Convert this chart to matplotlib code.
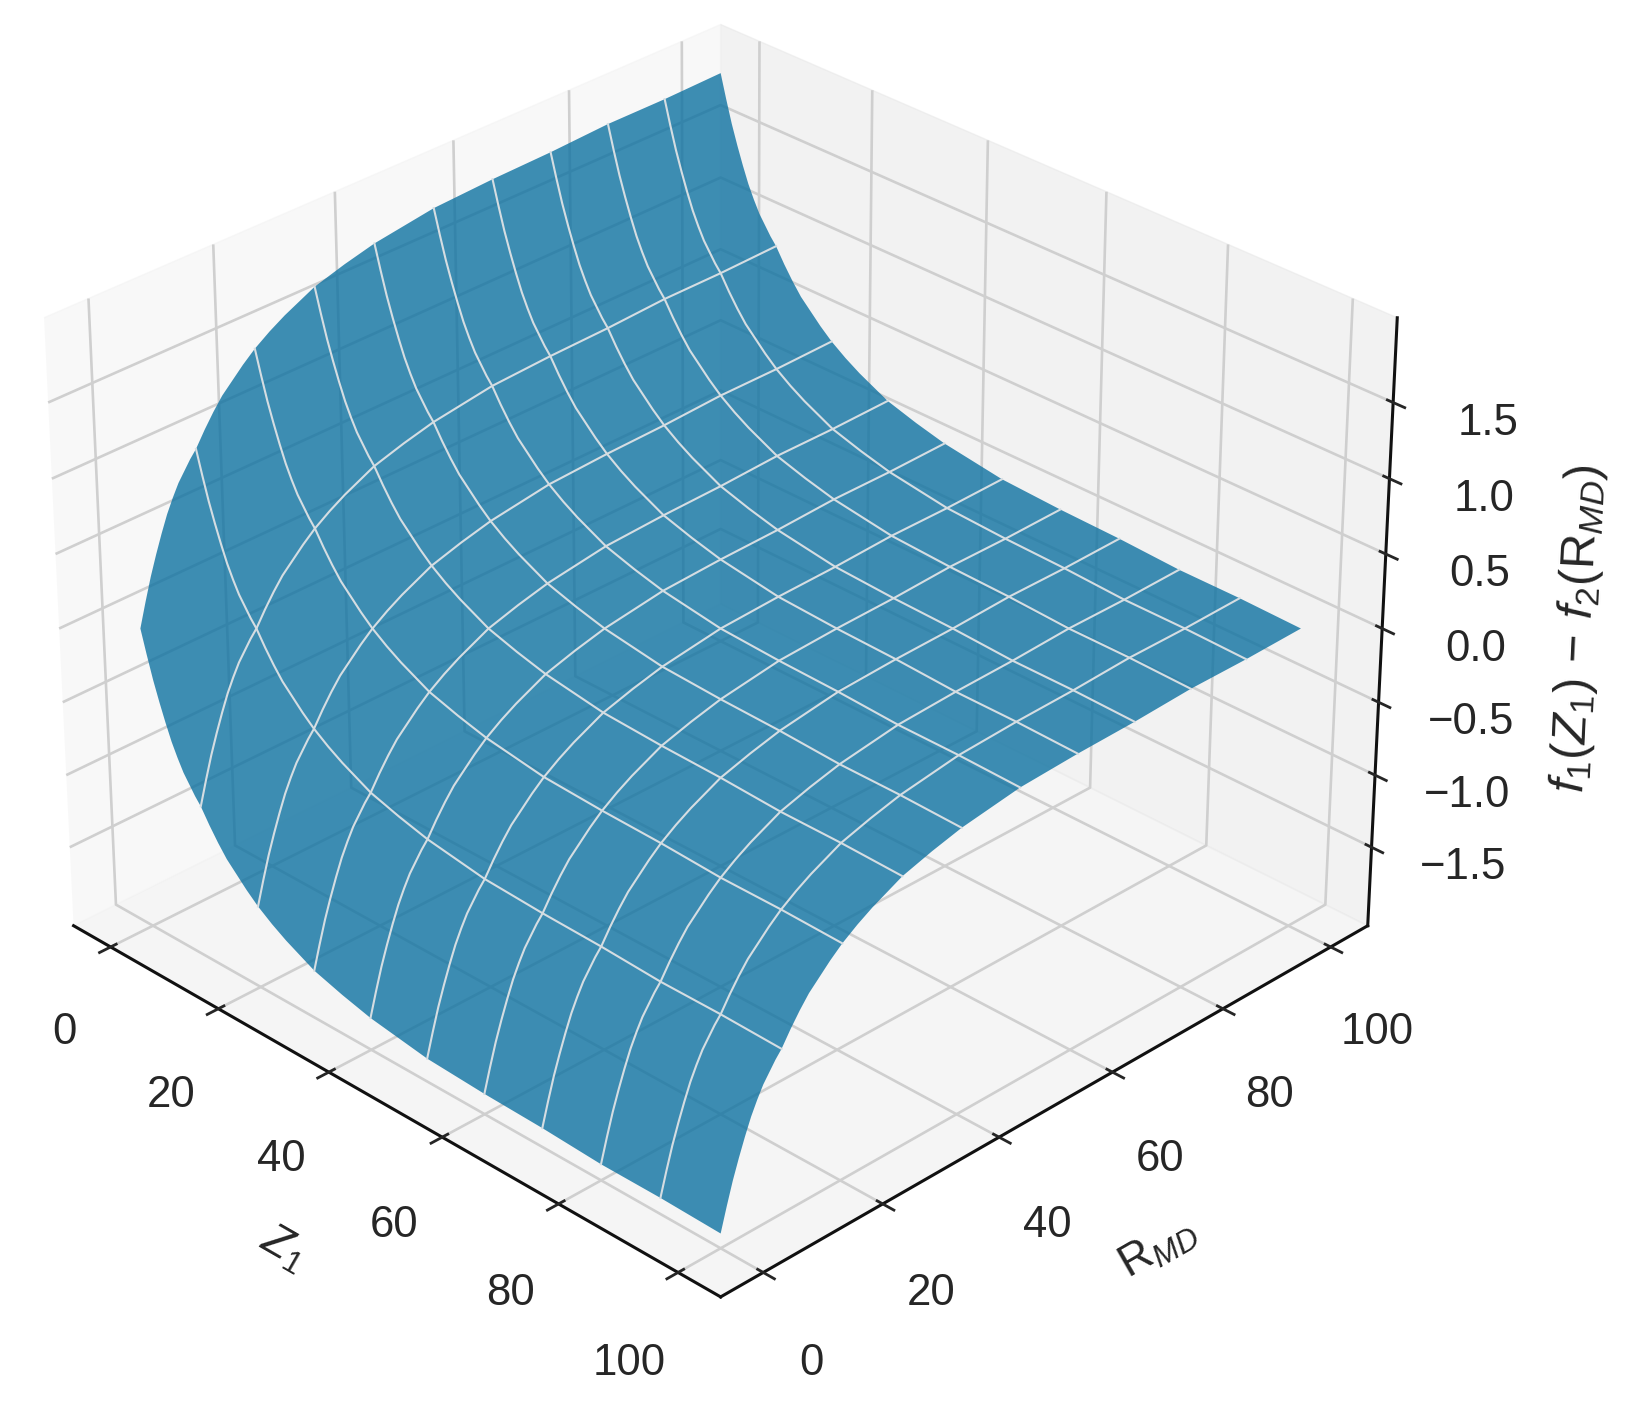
import numpy as np
import matplotlib
matplotlib.use('Agg')
import matplotlib.pyplot as plt
from mpl_toolkits.mplot3d.art3d import Poly3DCollection

plt.rcParams['font.family'] = ['Liberation Sans', 'DejaVu Sans']
plt.rcParams['mathtext.fontset'] = 'custom'
plt.rcParams['mathtext.rm'] = 'Liberation Sans'
plt.rcParams['mathtext.it'] = 'Liberation Sans:italic'
plt.rcParams['mathtext.default'] = 'it'
plt.rcParams['grid.color'] = '#cfcfcf'
plt.rcParams['grid.linewidth'] = 1.9

z1_pos = [0, 1, 2, 3, 4, 5, 6, 7, 8, 9, 10, 11.5, 13, 14.5, 16, 18, 20, 22.5, 25, 27.5, 30, 35, 40,
          45, 50, 60, 70, 80, 90, 100]
rmd_pos = [0, 1, 2, 3, 4, 5, 6, 7, 8, 9, 10, 11.5, 13, 14.5, 16, 18, 20, 22.5, 25, 27.5, 30, 35, 40,
           45, 50, 60, 70, 80, 90, 100]
f1_vals = [0.0, -0.16, -0.31, -0.44, -0.56, -0.67, -0.76, -0.84, -0.90, -0.96, -1.01, -1.11, -1.20,
           -1.28, -1.34, -1.42, -1.49, -1.56, -1.62, -1.67, -1.72, -1.78, -1.83, -1.86, -1.89,
           -1.91, -1.92, -1.94, -1.94, -1.95]
f2_vals = [0.0, -0.16, -0.31, -0.44, -0.56, -0.67, -0.76, -0.84, -0.90, -0.96, -1.01, -1.11, -1.20,
           -1.28, -1.34, -1.42, -1.49, -1.56, -1.62, -1.67, -1.72, -1.78, -1.83, -1.86, -1.89,
           -1.91, -1.92, -1.94, -1.94, -1.95]
mesh_at = [10, 20, 30, 40, 50, 60, 70, 80, 90]

tick_vals = [0, 20, 40, 60, 80, 100]
ztick_vals = [-1.5, -1.0, -0.5, 0.0, 0.5, 1.0, 1.5]

X, Y = np.meshgrid(z1_pos, rmd_pos)
Z = np.array(f1_vals)[np.newaxis, :] - np.array(f2_vals)[:, np.newaxis]

fig = plt.figure(figsize=(16.31, 14.06), dpi=100)
ax = fig.add_axes([-0.0487, 0.022, 0.957, 1.034], projection='3d', computed_zorder=False)
ax.view_init(elev=30, azim=-45)

# surface filled as one outline, a fine plot_surface shows seams with alpha
outline = (list(zip(X[0, :], Y[0, :], Z[0, :]))
           + list(zip(X[:, -1], Y[:, -1], Z[:, -1]))
           + list(zip(X[-1, ::-1], Y[-1, ::-1], Z[-1, ::-1]))
           + list(zip(X[::-1, 0], Y[::-1, 0], Z[::-1, 0])))
surf = Poly3DCollection([outline], facecolor='#0e72a1', edgecolor='none', alpha=0.8, zorder=2)
ax.add_collection3d(surf)

# light mesh lines on top of the surface
line_col = '#d5dde2'
for m in mesh_at:
    i = rmd_pos.index(m)
    ax.plot(X[i, :], Y[i, :], Z[i, :], color=line_col, lw=1.5, zorder=3)
    j = z1_pos.index(m)
    ax.plot(X[:, j], Y[:, j], Z[:, j], color=line_col, lw=1.5, zorder=3)

ax.set_xlim(-7, 107)
ax.set_ylim(-7, 107)
ax.set_zlim(-2.05, 2.05)
ax.set_xticks(tick_vals)
ax.set_yticks(tick_vals)
ax.set_zticks(ztick_vals)
ax.tick_params(labelsize=31.5, colors='#262626', pad=30)
ax.tick_params(axis='z', pad=30.5)

for axis in (ax.xaxis, ax.yaxis, ax.zaxis):
    axis._axinfo['tick']['linewidth'] = {True: 2.0, False: 1.0}
    axis.line.set_color('#111111')
    axis.line.set_linewidth(2.2)

ax.set_xlabel('$Z_1$', fontsize=32, labelpad=60, color='#262626')
ax.set_ylabel('$\\mathrm{R}_{MD}$', fontsize=32, labelpad=60, color='#262626')
ax.set_zlabel('$f_1(Z_1)\\,-\\,f_2(\\mathrm{R}_{MD})$', fontsize=35, labelpad=60, color='#262626')

plt.savefig('out.png', dpi=100)
